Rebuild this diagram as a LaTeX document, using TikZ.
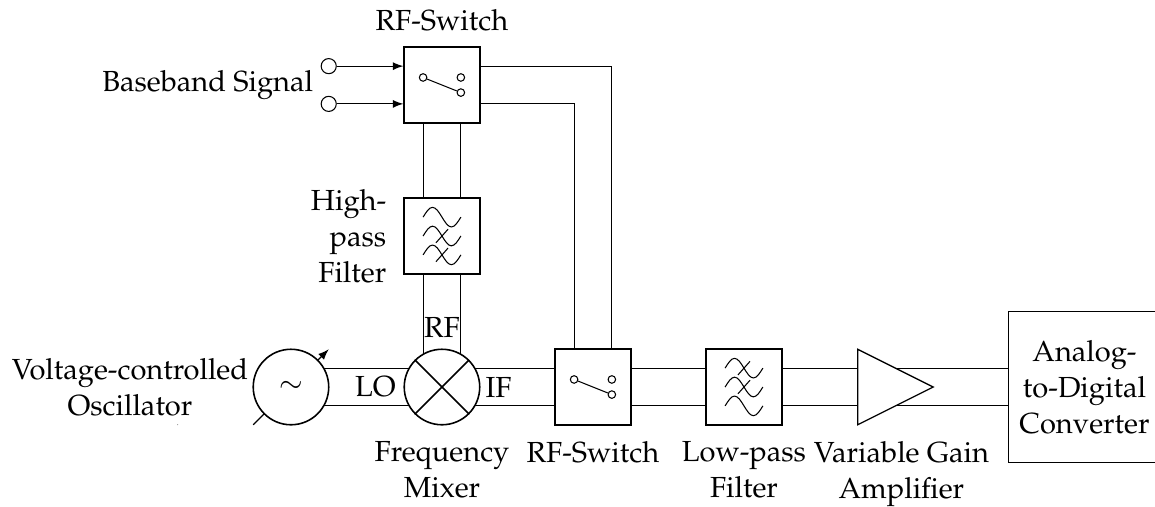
\documentclass[tikz,border=0pt,11pt]{standalone}
\usepackage[T1]{fontenc}
\usepackage{mathpazo}
\usetikzlibrary{shapes.geometric, positioning, backgrounds}

\tikzset{
    block/.style={draw, fill=white, line width=0.6pt, minimum size=1cm, inner sep=0pt},
    osc/.style={circle, draw, fill=white, line width=0.6pt, minimum size=1cm, inner sep=0pt},
    amplifier/.style={isosceles triangle, isosceles triangle stretches, draw, fill=white, line width=0.5pt,
        minimum width=1cm, minimum height=1cm, inner sep=0pt},
    terminal/.style={circle, draw, fill=white, minimum size=0.2cm, inner sep=0pt},
    contact/.style={circle, draw, fill=white, minimum size=0.1cm, inner sep=0pt},
    caption/.style={align=center, inner sep=0pt},
    switchsym/.pic={
        \node[contact] (-a) at (-0.25,0.1) {};
        \node[contact] (-b) at (0.25,0.1) {};
        \node[contact] (-c) at (0.25,-0.1) {};
        \draw (-a) -- (-c);
    },
    wave/.pic={
        \draw (-0.25,0) sin (-0.125,0.13) cos (0,0) sin (0.125,-0.13) cos (0.25,0);
    },
    slashwave/.pic={
        \draw (-0.25,0) sin (-0.125,0.13) cos (0,0) sin (0.125,-0.13) cos (0.25,0);
        \draw (-0.08,-0.09) -- (0.08,0.09);
    }
}

\begin{document}
\begin{tikzpicture}
    \useasboundingbox (-5.854,-1.576) rectangle (9.444,5.126);

    % Receive chain
    \node[osc] (vco) at (-2,0) {$\sim$};
    \node[osc] (mix) at (0,0) {};
    \node[block] (swb) at (2,0) {};
    \node[block] (lpf) at (4,0) {};
    \node[amplifier] (amp) at (5.815,0) {};
    \node[block, minimum width=2cm, minimum height=2cm, line width=0.4pt] (adc) at (8.5,0) {};
    \draw[line width=0.6pt] (mix.45) -- (mix.225);
    \draw[line width=0.6pt] (mix.135) -- (mix.-45);

    % Transmit branch
    \node[block] (hpf) at (0,2) {};
    \node[block] (swt) at (0,4) {};
    \node[terminal] (bbu) at (-1.5,4.25) {};
    \node[terminal] (bbl) at (-1.5,3.75) {};

    % Symbols
    \pic at (swt.center) {switchsym};
    \pic at (swb.center) {switchsym};
    \pic at ([yshift=0.25cm]hpf.center) {wave};
    \pic at (hpf.center) {slashwave};
    \pic at ([yshift=-0.25cm]hpf.center) {slashwave};
    \pic at ([yshift=0.25cm]lpf.center) {slashwave};
    \pic at (lpf.center) {slashwave};
    \pic at ([yshift=-0.25cm]lpf.center) {wave};

    % Wires
    \begin{pgfonlayer}{background}
        \foreach \a/\b in {vco/mix, mix/swb, swb/lpf, lpf/amp, amp/adc}
            \foreach \s in {0.25,-0.25}
                \draw ([yshift=\s cm]\a.center) -- ([yshift=\s cm]\b.center);
        \foreach \a/\b in {mix/hpf, hpf/swt}
            \foreach \s in {0.25,-0.25}
                \draw ([xshift=\s cm]\a.center) -- ([xshift=\s cm]\b.center);
        \draw ([yshift=0.25cm]swt.center) -| ([xshift=0.25cm]swb.center);
        \draw ([yshift=-0.25cm]swt.center) -| ([xshift=-0.25cm]swb.center);
        \coordinate (tune1) at ([shift={(-0.5,-0.5)}]vco.center);
        \coordinate (tune2) at ([shift={(0.5,0.5)}]vco.center);
        \draw[-latex] (tune1) -- (tune2);
    \end{pgfonlayer}
    \draw[-latex] (bbu) -- (bbu -| swt.west);
    \draw[-latex] (bbl) -- (bbl -| swt.west);

    % Labels
    \node[caption] (lo) at (-0.88,0) {LO};
    \node[caption] (if) at (0.75,0) {IF};
    \node[caption] (rf) at (0,0.79) {RF};
    \node[caption, left=0.05cm of vco] (lblvco) {Voltage-controlled\\Oscillator};
    \node[caption, below=0.2cm of mix] (lblmix) {Frequency\\Mixer};
    \node[caption, below=0.2cm of swb] (lblswb) {RF-Switch};
    \node[caption, below=0.2cm of lpf] (lbllpf) {Low-pass\\Filter};
    \node[caption, anchor=north, xshift=0.27cm] (lblamp) at (amp.center |- lblmix.north) {Variable Gain\\Amplifier};
    \node[caption, align=right, left=0.22cm of hpf] (lblhpf) {High-\\pass\\Filter};
    \node[caption, above=0.2cm of swt] (lblswt) {RF-Switch};
    \node[caption, left=1.19cm of swt] (lblbb) {Baseband Signal};
    \node[caption, xshift=0.01cm] (lbladc) at (adc.center) {Analog-\\to-Digital\\Converter};
    \fill (-3.5,-0.5) circle (0.15pt);
\end{tikzpicture}
\end{document}
